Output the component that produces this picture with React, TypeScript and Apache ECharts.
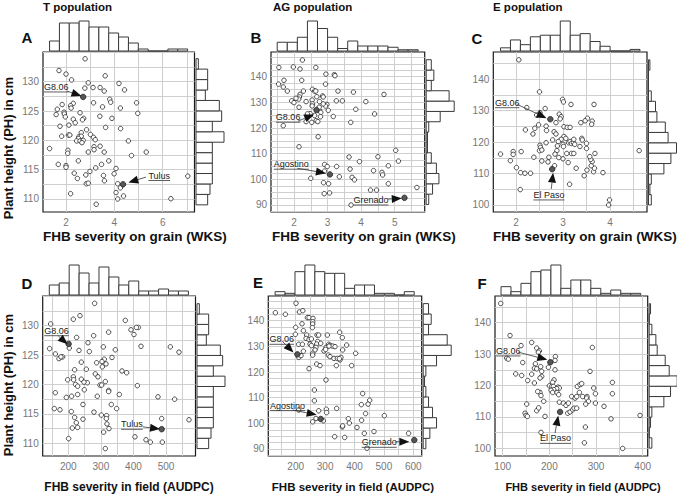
import React, { useEffect, useRef } from "react";
import * as echarts from "echarts";

// ---------- DATA ----------
// Panel A: T population, FHB severity on grain (WKS) vs plant height (cm)
const pointsA: number[][] = [
  [2.79,133.9],[1.71,131.9],[2.0,131.3],[3.62,131.0],[2.23,130.3],[2.92,129.8],[4.19,129.7],[3.41,129.0],[2.78,128.9],[3.12,129.0],
  [3.58,128.4],[4.42,128.6],[3.81,127.0],[3.85,126.5],[3.14,126.4],[4.92,126.4],[1.84,126.1],[2.30,126.3],[2.19,125.9],[2.21,125.5],
  [3.51,125.7],[4.25,125.5],[1.64,125.3],[4.97,124.6],[1.59,124.4],[1.92,124.8],[1.93,124.5],[2.58,124.7],[3.40,124.1],[1.97,124.0],
  [2.30,123.6],[2.73,123.75],[3.90,123.75],[2.68,123.5],[2.38,123.0],[1.75,122.4],[2.12,122.6],[3.64,122.2],[4.26,122.0],[2.85,121.8],
  [1.82,120.7],[2.63,121.3],[2.10,120.9],[2.16,120.9],[3.01,121.0],[2.53,120.6],[2.63,120.7],[2.52,120.3],[3.14,120.5],[3.21,120.1],
  [2.44,119.9],[2.58,119.9],[2.71,120.0],[2.66,119.6],[4.58,119.9],[3.16,118.9],[3.41,119.0],[3.16,118.4],[1.32,118.6],[2.08,118.3],
  [2.07,117.8],[2.92,118.0],[3.58,118.0],[5.32,118.0],[4.71,117.4],[2.51,116.5],[3.77,116.5],[1.68,115.9],[2.0,115.7],[2.0,115.4],
  [3.47,115.9],[3.23,115.3],[2.99,114.7],[4.07,115.2],[2.34,114.4],[2.82,114.1],[3.99,114.3],[3.55,114.0],[2.47,113.5],[3.59,113.1],
  [2.84,112.6],[2.92,112.7],[4.14,112.6],[4.25,111.9],[2.19,110.9],[4.07,111.1],[4.38,110.5],[4.14,110.0],[6.34,110.05],[7.04,113.9],
  [3.25,109.1]
];
const highlightA = [{ name: "G8.06", value: [2.71, 127.4] }, { name: "Tulus", value: [4.36, 112.5] }];
const topCountsA = [5,14,14,15,12,12,9,7,4,1,0,0,1,1];
const topStartA = 1.32, topWidthA = 0.408;
const rightCountsA = [5,6,7,7,7,7,12,7,11,10,4,5,5,1];
const rightStartA = 109.0, rightWidthA = 1.78;
const xGridA = [1,2,3,4,5,6,7];
const xLabelsA = [2,4,6];
const yGridA = [110,112.5,115,117.5,120,122.5,125,127.5,130,132.5,135];
const yLabelsA = [110,115,120,125,130];

// Panel B: AG population, grain
const pointsB: number[][] = [
  [2.25,146.5],[1.55,143.6],[1.98,143.8],[2.18,143.0],[2.65,143.6],[1.70,138.6],[2.23,138.6],[2.95,141.0],[3.20,140.8],[3.22,140.4],
  [1.54,137.1],[1.68,136.0],[2.94,137.1],[1.80,134.4],[2.28,134.4],[2.18,133.1],[2.55,135.1],[2.61,134.4],[2.65,134.4],[3.31,134.4],
  [3.77,134.0],[2.16,132.1],[2.85,132.5],[2.87,132.1],[2.68,132.2],[1.93,130.6],[2.0,129.9],[2.14,131.3],[2.54,130.9],[2.36,130.3],
  [2.76,130.3],[3.26,130.6],[3.44,130.6],[4.14,130.3],[2.98,129.2],[2.94,128.6],[2.15,128.1],[2.55,129.4],[2.54,128.6],[2.75,127.0],
  [3.02,126.9],[3.84,127.3],[2.80,126.1],[3.17,124.5],[2.48,125.6],[2.36,122.5],[2.53,122.2],[2.66,122.9],[2.71,122.5],[2.79,124.4],
  [1.68,120.9],[3.69,122.2],[4.40,125.5],[4.68,133.1],[2.72,116.6],[2.15,112.7],[3.64,108.7],[4.50,108.8],[5.03,111.3],[3.95,106.9],
  [5.11,107.1],[2.91,105.8],[2.99,105.0],[3.27,105.0],[3.67,104.0],[4.37,103.4],[4.62,102.7],[4.64,101.7],[4.81,105.3],[2.91,103.2],
  [3.35,101.0],[3.73,100.8],[3.80,99.8],[2.50,100.4],[2.88,98.7],[3.03,98.3],[4.81,98.3],[2.90,94.4],[3.06,94.7],[4.28,95.8],
  [4.46,95.8],[5.66,96.8],[3.70,90.0],[2.61,124.9],[2.75,128.1],[2.40,125.5],[2.87,129.4],[2.06,131.6]
];
const highlightB = [{ name: "G8.06", value: [2.67, 127.0] }, { name: "Agostino", value: [3.07, 101.9] }, { name: "Grenado", value: [5.29, 92.8] }];
const topCountsB = [7,7,11,24,18,11,2,8,4,4,4,3,1,1];
const topStartB = 1.5, topWidthB = 0.3;
const rightCountsB = [2,5,10,8,4,1,1,2,11,22,18,4,6,4];
const rightStartB = 90.2, rightWidthB = 4.03;
const xGridB = [1.5,2,2.5,3,3.5,4,4.5,5,5.5];
const xLabelsB = [2,3,4,5];
const yGridB = [87.5,90,92.5,95,97.5,100,102.5,105,107.5,110,112.5,115,117.5,120,122.5,125,127.5,130,132.5,135,137.5,140,142.5,145,147.5];
const yLabelsB = [90,100,110,120,130,140];

// Panel C: E population, grain
const pointsC: number[][] = [
  [2.06,146.2],[2.50,136.0],[2.23,131.0],[2.62,130.7],[2.99,133.6],[3.01,132.8],[3.17,132.0],[3.66,132.0],[2.44,128.6],[2.51,129.4],
  [2.92,128.9],[2.96,128.1],[2.94,127.4],[2.85,126.2],[3.52,127.6],[3.38,126.2],[3.47,126.8],[3.62,126.7],[3.61,125.7],[2.48,125.5],
  [2.40,124.4],[2.64,125.1],[3.02,124.9],[3.09,124.7],[3.15,124.7],[2.20,123.9],[2.36,122.6],[2.81,123.3],[2.85,122.6],[2.65,123.7],
  [3.02,121.8],[2.96,120.9],[2.64,119.8],[2.51,119.0],[2.52,118.3],[2.50,117.3],[2.55,117.5],[2.78,120.7],[2.90,120.2],[3.06,121.2],
  [2.88,118.8],[2.87,117.3],[3.0,119.3],[3.01,118.6],[3.12,119.8],[3.15,120.2],[3.18,119.6],[3.22,119.8],[3.25,119.3],[3.23,120.9],
  [3.40,121.2],[3.41,120.7],[3.50,119.6],[3.18,116.4],[3.23,116.4],[3.08,116.4],[3.11,113.5],[3.0,114.7],[2.91,115.1],[2.83,116.2],
  [2.70,115.2],[2.68,113.7],[2.55,114.0],[2.38,115.2],[1.67,116.2],[1.94,117.0],[1.94,116.1],[2.11,117.0],[1.88,114.1],[2.01,111.9],
  [2.10,110.3],[2.19,110.1],[2.31,110.1],[2.82,112.5],[3.28,111.7],[3.51,111.1],[3.65,110.6],[3.67,111.7],[3.60,112.5],[3.62,113.8],
  [3.59,114.5],[3.57,115.4],[3.68,116.4],[3.85,110.3],[3.45,109.3],[3.14,106.6],[2.09,104.9],[3.99,101.6],[3.97,100.0],[4.62,117.3],
  [3.50,118.0],[3.36,118.6]
];
const highlightC = [{ name: "G8.06", value: [2.73, 127.3] }, { name: "El Paso", value: [2.77, 111.4] }];
const topCountsC = [2,7,4,9,10,10,19,10,11,6,3,0,0,1];
const topStartC = 1.67, topWidthC = 0.212;
const rightCountsC = [2,1,2,11,16,20,14,12,6,5,2,0,0,1];
const rightStartC = 100.0, rightWidthC = 3.3;
const xGridC = [2,2.5,3,3.5,4,4.5];
const xLabelsC = [2,3,4];
const yGridC = [100,105,110,115,120,125,130,135,140,145];
const yLabelsC = [100,110,120,130,140];

// Panel D: T population, field (AUDPC)
const pointsD: number[][] = [
  [280.9,133.8],[215.4,131.1],[235.8,131.7],[145.8,130.3],[375.0,130.9],[323.8,128.9],[415,129.7],[409,129.7],[392.4,129.3],[401.6,128.5],
  [225.6,128.0],[277.8,128.3],[203,126.2],[142.7,126.1],[160.1,125.2],[182.6,124.7],[171.3,124.4],[177.5,124.7],[260.4,127.1],[232.8,125.8],
  [264.5,125.6],[307.5,126.4],[344.3,125.9],[423.1,126.5],[513.2,126.4],[539.8,125.5],[334.1,124.6],[310.5,124.3],[315.7,123.5],[303.4,123.9],
  [287,123.7],[239.9,123.8],[255.3,122.6],[304.4,123.0],[364.8,122.3],[379.1,122.0],[219.4,122.5],[282.9,121.8],[258.3,120.3],[291.1,121.3],
  [198.0,120.8],[215.4,121.3],[216.4,120.8],[239.9,120.9],[222.5,120.0],[248.1,120.4],[228.7,119.7],[297.2,119.9],[302.4,119.9],[313.6,120.5],
  [323.8,119.0],[323.8,118.8],[249.1,119.1],[228.7,118.3],[210.2,118.0],[193.9,117.8],[160.1,118.6],[289.0,118.0],[356.6,118.3],[411.9,119.8],
  [475.3,117.9],[526.5,117.5],[245.0,116.6],[332.0,116.6],[157.0,115.9],[174.4,115.7],[209.2,115.4],[278.8,115.3],[348.4,115.9],[301.3,114.8],
  [317.7,114.7],[316.7,114.2],[219.4,114.4],[245.0,114.1],[224.5,113.5],[318.7,113.3],[486.6,114.2],[570.5,114.0],[212.3,112.6],[228.7,112.7],
  [324.9,112.5],[308.5,111.9],[404.7,111.1],[201,110.8],[438.5,110.6],[451.8,110.2],[488.6,110.2],[313.6,109.1]
];
const highlightD = [{ name: "G8.06", value: [201, 126.9] }, { name: "Tulus", value: [486.6, 112.4] }];
const topCountsD = [5,6,15,11,6,14,9,5,7,2,2,3,2,2];
const topStartD = 141.7, topWidthD = 30.5;
const rightCountsD = [5,6,7,7,7,7,12,7,11,10,4,5,5,1];
const rightStartD = 109.1, rightWidthD = 1.76;
const xGridD = [150,200,250,300,350,400,450,500,550];
const xLabelsD = [200,300,400,500];
const yGridD = yGridA;
const yLabelsD = yLabelsA;

// Panel E: AG population, field
const pointsE: number[][] = [
  [201.1,146.8],[130.9,143.1],[164.9,142.5],[212.5,143.4],[224.2,143.9],[239.7,141.2],[245.3,141.2],[258.9,140.9],[257.8,139.6],[257.8,138.7],
  [221.5,138.8],[200,137.4],[256.7,137.3],[226.1,136.1],[198.9,134.7],[237.4,134.4],[235.2,133.1],[245.3,132.7],[253.3,132.9],[272.5,134.4],
  [278.2,134.4],[307.6,134.4],[349.6,135.5],[358.6,133.4],[210.2,130.8],[222.7,130.8],[274.8,131.9],[271.4,130.9],[285.0,131.2],[248.7,130.9],
  [253.3,130.3],[269.1,129.6],[303.1,129.6],[312.2,130.8],[316.7,130.4],[325.8,130.1],[333.7,129.9],[313.3,130.1],[373.4,130.5],[265.7,128.6],
  [296.3,128.2],[302.0,128.8],[359.8,128.6],[404.0,127.3],[226.1,128.1],[257.8,127.3],[257.8,126.6],[210.2,125.7],[218.1,126.4],[311.0,126.6],
  [316.7,126.0],[330.3,125.3],[341.6,125.3],[350.7,124.7],[354.1,125.7],[348.4,125.2],[338.2,122.5],[271.4,123.1],[282.7,122.5],[245.3,121.3],
  [390.4,122.5],[303.1,116.9],[263.5,113.0],[263.5,108.8],[427.8,111.6],[451.7,109.0],[446.1,107.5],[423.2,107.3],[304.2,105.5],[305.3,104.2],
  [339.4,105.8],[278.2,104.9],[210.2,105.2],[437.8,103.8],[424.2,101.2],[501.4,103.0],[269.1,101.9],[294.1,101.0],[257.8,100.6],[379.0,101.8],
  [382.4,100.1],[358.6,98.6],[359.8,99.0],[408.5,98.4],[332.6,94.8],[366.6,94.5],[433.4,96.1],[466.3,96.8],[584.1,96.1],[442.5,90.3]
];
const highlightE = [{ name: "G8.06", value: [205.7, 126.9] }, { name: "Agostino", value: [285.0, 101.7] }, { name: "Grenado", value: [603.4, 93.5] }];
const topCountsE = [2,1,14,18,14,13,13,4,6,6,1,1,0,2];
const topStartE = 130, topWidthE = 33.8;
const rightCountsE = [2,5,10,7,4,2,1,2,10,21,18,4,6,4];
const rightStartE = 90.1, rightWidthE = 4.04;
const xGridE = [150,200,250,300,350,400,450,500,550,600];
const xLabelsE = [200,300,400,500,600];
const yGridE = yGridB;
const yLabelsE = yLabelsB;

// Panel F: E population, field
const pointsF: number[][] = [
  [95.7,146.1],[115.7,135.9],[139.3,132.7],[162.1,133.7],[172.9,131.9],[178.6,131.0],[176.4,130.6],[108.6,128.7],[112.1,128.4],[142.9,127.3],
  [170.0,126.9],[212.9,129.2],[212.1,128.0],[181.4,126.0],[167.9,125.5],[172.9,125.3],[197.9,125.8],[212.1,125.0],[183.6,124.5],[127.9,123.7],
  [140.7,123.2],[162.1,123.6],[183.6,122.9],[180.0,122.4],[210.0,121.8],[153.6,121.6],[167.9,120.8],[207.1,121.0],[200.0,119.9],[205.0,119.7],
  [208.6,119.7],[218.6,119.5],[221.4,119.2],[215.7,119.0],[209.3,118.7],[203.6,118.5],[207.1,117.8],[216.4,117.8],[220.0,117.1],[180.0,117.8],
  [175.0,118.1],[182.1,116.8],[187.9,115.0],[172.9,112.0],[177.1,112.9],[151.4,114.1],[147.9,111.2],[150.0,110.5],[152.9,110.2],[190.7,110.2],
  [182.1,105.1],[221.4,114.7],[230.0,114.4],[235.7,113.7],[240.7,114.4],[239.3,111.2],[244.3,111.6],[250.0,112.3],[252.9,112.8],[258.6,112.8],
  [247.9,116.5],[255.0,116.0],[258.6,116.5],[264.3,117.8],[271.4,116.5],[280.7,116.5],[280.0,116.0],[283.6,115.0],[277.9,114.1],[298.6,114.4],
  [260.0,119.7],[265.7,120.3],[269.3,120.6],[295.0,119.2],[298.6,117.4],[287.1,124.5],[292.1,132.1],[335.0,121.0],[335.0,117.4],[317.1,113.4],
  [332.1,109.4],[394.3,110.5],[277.1,106.8],[275.0,101.8],[357.1,100.0]
];
const highlightF = [{ name: "G8.06", value: [202.1, 127.4] }, { name: "El Paso", value: [222.9, 111.6] }];
const topCountsF = [5,2,7,14,15,18,4,9,9,4,1,3,1,1];
const topStartF = 96.4, topWidthF = 21.38;
const rightCountsF = [2,0,1,2,11,16,21,15,12,6,5,2,0,1];
const rightStartF = 100.1, rightWidthF = 3.28;
const xGridF = [100,150,200,250,300,350,400];
const xLabelsF = [100,200,300,400];
const yGridF = yGridC;
const yLabelsF = yLabelsC;

// annotations (data coordinates): label anchor, arrow tail, arrow tip
type Annot = { label: string; text: number[]; tail: number[]; tip: number[] };
const annotA: Annot[] = [
  { label: "G8.06", text: [1.09, 129.1], tail: [2.04, 128.4], tip: [2.64, 127.56] },
  { label: "Tulus", text: [5.41, 114.0], tail: [5.31, 113.73], tip: [4.58, 112.8] },
];
const annotB: Annot[] = [
  { label: "G8.06", text: [1.46, 124.2], tail: [2.12, 122.7], tip: [2.6, 125.3] },
  { label: "Agostino", text: [1.4, 105.9], tail: [2.1, 104.3], tip: [2.95, 102.4] },
  { label: "Grenado", text: [3.77, 91.95], tail: [4.8, 92.3], tip: [5.21, 92.6] },
];
const annotC: Annot[] = [
  { label: "G8.06", text: [1.553, 132.55], tail: [2.03, 132.0], tip: [2.65, 127.6] },
  { label: "El Paso", text: [2.37, 103.2], tail: [2.75, 105.1], tip: [2.79, 110.3] },
];
const annotD: Annot[] = [
  { label: "G8.06", text: [126.3, 129.15], tail: [169.3, 128.25], tip: [198.2, 126.84] },
  { label: "Tulus", text: [361.8, 113.23], tail: [428.4, 112.8], tip: [481.5, 112.43] },
];
const annotE: Annot[] = [
  { label: "G8.06", text: [110.9, 132.75], tail: [156.8, 131.7], tip: [192.5, 127.6] },
  { label: "Agostino", text: [112.6, 106.9], tail: [189.8, 105.2], tip: [271.4, 103.3] },
  { label: "Grenado", text: [424.5, 92.6], tail: [540.1, 92.85], tip: [586.4, 92.85] },
];
const annotF: Annot[] = [
  { label: "G8.06", text: [85.6, 131.0], tail: [133.4, 130.6], tip: [195.6, 128.2] },
  { label: "El Paso", text: [179.9, 103.2], tail: [212.1, 104.9], tip: [219.1, 110.45] },
];

// ---------- LAYOUT ----------
const FONT = "'Liberation Sans', Arial, sans-serif";
const panels = [
  { points: pointsA, hl: highlightA, annots: annotA, left: 43, top: 52, width: 151.5, height: 160, xMin: 1.048, xMax: 7.317, yMin: 107.78, yMax: 135.06,
    xGrid: xGridA, xLab: xLabelsA, yGrid: yGridA, yLab: yLabelsA,
    top_: { counts: topCountsA, start: topStartA, w: topWidthA }, right_: { counts: rightCountsA, start: rightStartA, w: rightWidthA } },
  { points: pointsB, hl: highlightB, annots: annotB, left: 271, top: 52, width: 153.7, height: 160, xMin: 1.315, xMax: 5.893, yMin: 87.27, yMax: 149.63,
    xGrid: xGridB, xLab: xLabelsB, yGrid: yGridB, yLab: yLabelsB,
    top_: { counts: topCountsB, start: topStartB, w: topWidthB }, right_: { counts: rightCountsB, start: rightStartB, w: rightWidthB } },
  { points: pointsC, hl: highlightC, annots: annotC, left: 493.3, top: 52, width: 153.7, height: 160, xMin: 1.517, xMax: 4.787, yMin: 97.77, yMax: 148.69,
    xGrid: xGridC, xLab: xLabelsC, yGrid: yGridC, yLab: yLabelsC,
    top_: { counts: topCountsC, start: topStartC, w: topWidthC }, right_: { counts: rightCountsC, start: rightStartC, w: rightWidthC } },
  { points: pointsD, hl: highlightD, annots: annotD, left: 42.7, top: 296, width: 152.8, height: 160, xMin: 121.4, xMax: 590.5, yMin: 107.84, yMax: 135.05,
    xGrid: xGridD, xLab: xLabelsD, yGrid: yGridD, yLab: yLabelsD,
    top_: { counts: topCountsD, start: topStartD, w: topWidthD }, right_: { counts: rightCountsD, start: rightStartD, w: rightWidthD } },
  { points: pointsE, hl: highlightE, annots: annotE, left: 268.3, top: 296, width: 153.4, height: 160, xMin: 106.8, xMax: 628.6, yMin: 87.27, yMax: 149.63,
    xGrid: xGridE, xLab: xLabelsE, yGrid: yGridE, yLab: yLabelsE,
    top_: { counts: topCountsE, start: topStartE, w: topWidthE }, right_: { counts: rightCountsE, start: rightStartE, w: rightWidthE } },
  { points: pointsF, hl: highlightF, annots: annotF, left: 495, top: 296, width: 152.7, height: 160, xMin: 83.5, xMax: 410.7, yMin: 97.6, yMax: 148.46,
    xGrid: xGridF, xLab: xLabelsF, yGrid: yGridF, yLab: yLabelsF,
    top_: { counts: topCountsF, start: topStartF, w: topWidthF }, right_: { counts: rightCountsF, start: rightStartF, w: rightWidthF } },
];

const BAR_STYLE = { fill: "#fff", stroke: "#3a3a3a", lineWidth: 1 };

function buildOption() {
  const grid: any[] = [], xAxis: any[] = [], yAxis: any[] = [], series: any[] = [];
  panels.forEach((p, i) => {
    const gMain = 3 * i, gTop = 3 * i + 1, gRight = 3 * i + 2;
    grid.push({ left: p.left, top: p.top, width: p.width, height: p.height, show: true, borderColor: "#1a1a1a", borderWidth: 1.2,
      backgroundColor: "#fff", containLabel: false, outerBoundsMode: "none" });
    grid.push({ left: p.left, top: p.top - 31, width: p.width, height: 30, containLabel: false, outerBoundsMode: "none" });
    grid.push({ left: p.left + p.width + 1.5, top: p.top, width: 28, height: p.height, containLabel: false, outerBoundsMode: "none" });
    const hidden = { axisLine: { show: false }, axisTick: { show: false }, axisLabel: { show: false }, splitLine: { show: false } };
    xAxis.push({ type: "value", gridIndex: gMain, min: p.xMin, max: p.xMax,
      axisLine: { show: false }, axisTick: { show: false, customValues: p.xGrid },
      axisLabel: { customValues: p.xLab, color: "#777", fontSize: 10, fontFamily: FONT, margin: 5 },
      splitLine: { show: true, lineStyle: { color: "#cfcfcf", width: 1 } } });
    yAxis.push({ type: "value", gridIndex: gMain, min: p.yMin, max: p.yMax,
      axisLine: { show: false }, axisTick: { show: false, customValues: p.yGrid },
      axisLabel: { customValues: p.yLab, color: "#777", fontSize: 10, fontFamily: FONT, margin: 4 },
      splitLine: { show: true, lineStyle: { color: "#cfcfcf", width: 1 } } });
    const topMax = Math.max(...p.top_.counts), rightMax = Math.max(...p.right_.counts);
    xAxis.push({ type: "value", gridIndex: gTop, min: p.xMin, max: p.xMax, ...hidden });
    yAxis.push({ type: "value", gridIndex: gTop, min: 0, max: topMax, ...hidden });
    xAxis.push({ type: "value", gridIndex: gRight, min: 0, max: rightMax, ...hidden });
    yAxis.push({ type: "value", gridIndex: gRight, min: p.yMin, max: p.yMax, ...hidden });

    series.push({ type: "scatter", xAxisIndex: gMain, yAxisIndex: gMain, data: p.points, symbol: "circle", symbolSize: 4.5, z: 3,
      itemStyle: { color: "#fff", borderColor: "#222", borderWidth: 0.8, opacity: 1 }, silent: true });
    series.push({ type: "scatter", xAxisIndex: gMain, yAxisIndex: gMain, data: p.hl, symbol: "circle", symbolSize: 5.5, z: 4,
      itemStyle: { color: "#555", borderColor: "#222", borderWidth: 0.8, opacity: 1 }, silent: true });

    const topData = p.top_.counts.map((c, k) => [p.top_.start + k * p.top_.w, p.top_.start + (k + 1) * p.top_.w, c]);
    series.push({ type: "custom", xAxisIndex: gTop, yAxisIndex: gTop, data: topData, silent: true, clip: false,
      renderItem: (_params: any, api: any) => {
        const a = api.coord([api.value(0), 0]);
        const b = api.coord([api.value(1), api.value(2)]);
        return { type: "rect", shape: { x: a[0], y: b[1], width: b[0] - a[0], height: a[1] - b[1] }, style: BAR_STYLE };
      } });
    const rightData = p.right_.counts.map((c, k) => [p.right_.start + k * p.right_.w, p.right_.start + (k + 1) * p.right_.w, c]);
    series.push({ type: "custom", xAxisIndex: gRight, yAxisIndex: gRight, data: rightData, silent: true, clip: false,
      encode: { x: 2, y: [0, 1] },
      renderItem: (_params: any, api: any) => {
        const a = api.coord([0, api.value(0)]);
        const b = api.coord([api.value(2), api.value(1)]);
        return { type: "rect", shape: { x: a[0], y: b[1], width: b[0] - a[0], height: a[1] - b[1] }, style: BAR_STYLE };
      } });
  });
  return { animation: false, backgroundColor: "#fff", textStyle: { fontFamily: FONT }, grid, xAxis, yAxis, series };
}

function txt(x: number, y: number, text: string, font: string, align = "left", extra: any = {}) {
  return { type: "text", x, y, z: 100, ...extra,
    style: { text, font, fill: "#111", align, verticalAlign: "middle", textAlign: align, textVerticalAlign: "middle" } };
}

function buildGraphics(chart: any) {
  const g: any[] = [];
  const titleFont = `bold 11.5px ${FONT}`;
  g.push(txt(43, 7, "T population", titleFont));
  g.push(txt(273, 7, "AG population", titleFont));
  g.push(txt(493, 7, "E population", titleFont));
  const letterFont = `bold 15px ${FONT}`;
  [["A", 27, 37], ["B", 256, 37], ["C", 477, 38], ["D", 27, 283], ["E", 258, 282], ["F", 482, 283]].forEach(([t, x, y]) =>
    g.push(txt(x as number, y as number, t as string, letterFont, "center")));
  const yTitleFont = `bold 13px ${FONT}`;
  g.push(txt(8, 148, "Plant height (PH) in cm", yTitleFont, "center", { rotation: Math.PI / 2 }));
  g.push(txt(8, 385, "Plant height (PH) in cm", yTitleFont, "center", { rotation: Math.PI / 2 }));
  const xt = `bold 13.5px ${FONT}`;
  g.push(txt(43, 236.5, "FHB severity on grain (WKS)", xt));
  g.push(txt(272, 236.5, "FHB severity on grain (WKS)", xt));
  g.push(txt(493, 236.5, "FHB severity on grain (WKS)", xt));
  g.push(txt(129, 487, "FHB severity in field (AUDPC)", `bold 12px ${FONT}`, "center"));
  g.push(txt(353, 487, "FHB severity in field (AUDPC)", `bold 11.5px ${FONT}`, "center"));
  g.push(txt(583, 487, "FHB severity in field (AUDPC)", `bold 11px ${FONT}`, "center"));

  const annFont = `9px ${FONT}`;
  const ctx = document.createElement("canvas").getContext("2d")!;
  ctx.font = annFont;
  panels.forEach((p, i) => {
    p.annots.forEach((a) => {
      const t = chart.convertToPixel({ gridIndex: 3 * i }, a.text);
      const tail = chart.convertToPixel({ gridIndex: 3 * i }, a.tail);
      const tip = chart.convertToPixel({ gridIndex: 3 * i }, a.tip);
      const w = ctx.measureText(a.label).width;
      g.push({ type: "text", x: t[0], y: t[1], z: 100,
        style: { text: a.label, font: annFont, fill: "#222", align: "left", verticalAlign: "middle", textAlign: "left", textVerticalAlign: "middle" } });
      g.push({ type: "line", z: 100, shape: { x1: t[0], y1: t[1] + 5, x2: t[0] + w, y2: t[1] + 5 }, style: { stroke: "#333", lineWidth: 0.8 } });
      const dx = tip[0] - tail[0], dy = tip[1] - tail[1];
      const L = Math.hypot(dx, dy) || 1;
      const ux = dx / L, uy = dy / L;
      const headLen = 10, headW = 4;
      const bx = tip[0] - ux * headLen, by = tip[1] - uy * headLen;
      g.push({ type: "line", z: 100, shape: { x1: tail[0], y1: tail[1], x2: bx, y2: by }, style: { stroke: "#333", lineWidth: 0.8 } });
      g.push({ type: "polygon", z: 101, shape: { points: [[tip[0], tip[1]], [bx - uy * headW, by + ux * headW], [bx + uy * headW, by - ux * headW]] },
        style: { fill: "#111" } });
    });
  });
  return g;
}

export default function App() {
  const ref = useRef<HTMLDivElement>(null);
  useEffect(() => {
    const chart = echarts.init(ref.current!, null, { renderer: "svg" });
    chart.setOption(buildOption() as any);
    chart.setOption({ graphic: buildGraphics(chart) } as any);
    return () => chart.dispose();
  }, []);
  return <div ref={ref} style={{ position: "absolute", left: 0, top: 0, width: 677, height: 494, background: "#fff" }} />;
}
